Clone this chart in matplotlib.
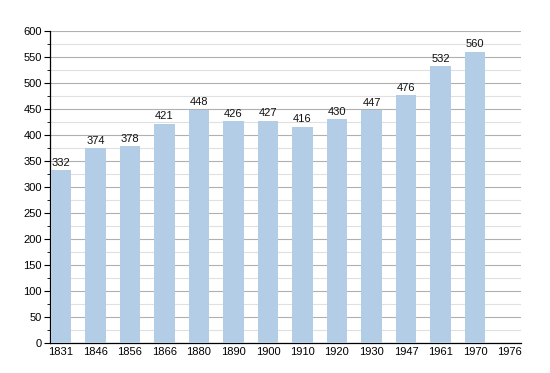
import numpy as np
import matplotlib.pyplot as plt
from matplotlib.ticker import MultipleLocator

plt.rcParams['font.family'] = ['Liberation Sans', 'DejaVu Sans']

years = ['1831', '1846', '1856', '1866', '1880', '1890', '1900',
         '1910', '1920', '1930', '1947', '1961', '1970', '1976']
population = [332, 374, 378, 421, 448, 426, 427, 416, 430, 447, 476, 532, 560, None]

fig = plt.figure(figsize=(5.5, 3.73), dpi=100)
ax = fig.add_axes([0.0909, 0.0804, 0.856, 0.837])

x = np.arange(len(years))
for xi, v in zip(x, population):
    if v is None:
        continue
    ax.bar(xi, v, width=0.6, color='#b3cde6', zorder=3)
    ax.text(xi, v + 5, str(v), ha='center', va='bottom', fontsize=8,
            color='#111', zorder=4)

ax.set_xlim(-0.32, len(years) - 0.67)
ax.set_ylim(0, 600)
ax.yaxis.set_major_locator(MultipleLocator(50))
ax.yaxis.set_minor_locator(MultipleLocator(25))
ax.grid(which='major', axis='y', color='#b0b0b0', lw=0.8, zorder=0)
ax.grid(which='minor', axis='y', color='#e0e0e0', lw=0.8, zorder=0)
ax.set_xticks(x)
ax.set_xticklabels(years)
ax.tick_params(axis='x', length=0, labelsize=8, pad=3)
ax.tick_params(axis='y', which='major', length=4, labelsize=8, pad=2)
ax.tick_params(axis='y', which='minor', length=2)
for s in ('top', 'right'):
    ax.spines[s].set_visible(False)
ax.spines['left'].set_linewidth(0.9)
ax.spines['bottom'].set_linewidth(0.9)

fig.savefig('out.png', dpi=100)
